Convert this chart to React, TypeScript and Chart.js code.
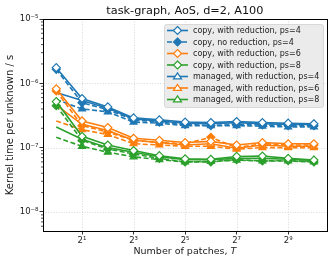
import React, { useEffect, useRef } from 'react';
import { Chart, registerables } from 'chart.js';
Chart.register(...registerables);

// ---------- data ----------
const patches = [1, 2, 4, 8, 16, 32, 64, 128, 256, 512, 1024];
const xTickValues = [2, 8, 32, 128, 512];
const xTickLabels = ['2¹', '2³', '2⁵', '2⁷', '2⁹'];
const yTickValues = [1e-8, 1e-7, 1e-6, 1e-5];
const yTickLabels = ['10⁻⁸', '10⁻⁷', '10⁻⁶', '10⁻⁵'];

const copyWithPs4 = [1.75e-6, 5.8e-7, 4.3e-7, 2.9e-7, 2.7e-7, 2.5e-7, 2.45e-7, 2.55e-7, 2.45e-7, 2.4e-7, 2.35e-7];
const copyNoPs4 = [1.65e-6, 5.0e-7, 3.9e-7, 2.7e-7, 2.5e-7, 2.3e-7, 2.2e-7, 2.3e-7, 2.25e-7, 2.2e-7, 2.2e-7];
const copyWithPs6 = [8.2e-7, 2.6e-7, 2.05e-7, 1.4e-7, 1.3e-7, 1.2e-7, 1.25e-7, 1.1e-7, 1.2e-7, 1.15e-7, 1.15e-7];
const copyNoPs6 = [7.6e-7, 2.2e-7, 1.75e-7, 1.3e-7, 1.2e-7, 1.15e-7, 1.45e-7, 1.0e-7, 1.15e-7, 1.1e-7, 1.1e-7];
const copyWithPs8 = [5.2e-7, 1.5e-7, 1.1e-7, 9.0e-8, 7.5e-8, 6.7e-8, 6.6e-8, 7.3e-8, 7.4e-8, 6.8e-8, 6.4e-8];
const copyNoPs8 = [4.5e-7, 1.3e-7, 9.5e-8, 8.0e-8, 6.8e-8, 6.0e-8, 6.0e-8, 6.5e-8, 6.2e-8, 6.3e-8, 6.0e-8];
const managedWithPs4 = [7.2e-7, 5.4e-7, 4.1e-7, 2.8e-7, 2.6e-7, 2.4e-7, 2.35e-7, 2.45e-7, 2.35e-7, 2.3e-7, 2.3e-7];
const managedNoPs4 = [5.6e-7, 4.0e-7, 3.6e-7, 2.5e-7, 2.4e-7, 2.2e-7, 2.2e-7, 2.2e-7, 2.15e-7, 2.1e-7, 2.1e-7];
const managedWithPs6 = [4.6e-7, 2.3e-7, 1.85e-7, 1.3e-7, 1.2e-7, 1.1e-7, 1.15e-7, 9.8e-8, 1.1e-7, 1.05e-7, 1.05e-7];
const managedNoPs6 = [2.6e-7, 1.9e-7, 1.6e-7, 1.15e-7, 1.1e-7, 1.05e-7, 1.05e-7, 9.5e-8, 1.0e-7, 1.0e-7, 1.0e-7];
const managedWithPs8 = [2.1e-7, 1.35e-7, 1.0e-7, 8.5e-8, 7.2e-8, 6.5e-8, 6.5e-8, 6.8e-8, 6.8e-8, 6.6e-8, 6.3e-8];
const managedNoPs8 = [1.45e-7, 1.05e-7, 8.5e-8, 7.2e-8, 6.5e-8, 6.0e-8, 6.1e-8, 6.4e-8, 6.2e-8, 6.2e-8, 6.0e-8];

const BLUE = '#1f77b4';
const ORANGE = '#ff7f0e';
const GREEN = '#2ca02c';

type S = { label: string; values: number[]; color: string; marker: string; filled: boolean; dashed: boolean; legend: boolean; managed: boolean };
const series: S[] = [
  { label: 'copy, with reduction, ps=4', values: copyWithPs4, color: BLUE, marker: 'rectRot', filled: false, dashed: false, legend: true, managed: false },
  { label: 'copy, no reduction, ps=4', values: copyNoPs4, color: BLUE, marker: 'rectRot', filled: true, dashed: true, legend: true, managed: false },
  { label: 'copy, with reduction, ps=6', values: copyWithPs6, color: ORANGE, marker: 'rectRot', filled: false, dashed: false, legend: true, managed: false },
  { label: 'copy, no reduction, ps=6', values: copyNoPs6, color: ORANGE, marker: 'rectRot', filled: true, dashed: true, legend: false, managed: false },
  { label: 'copy, with reduction, ps=8', values: copyWithPs8, color: GREEN, marker: 'rectRot', filled: false, dashed: false, legend: true, managed: false },
  { label: 'copy, no reduction, ps=8', values: copyNoPs8, color: GREEN, marker: 'rectRot', filled: true, dashed: true, legend: false, managed: false },
  { label: 'managed, with reduction, ps=4', values: managedWithPs4, color: BLUE, marker: 'triangle', filled: false, dashed: false, legend: true, managed: true },
  { label: 'managed, no reduction, ps=4', values: managedNoPs4, color: BLUE, marker: 'triangle', filled: true, dashed: true, legend: false, managed: true },
  { label: 'managed, with reduction, ps=6', values: managedWithPs6, color: ORANGE, marker: 'triangle', filled: false, dashed: false, legend: true, managed: true },
  { label: 'managed, no reduction, ps=6', values: managedNoPs6, color: ORANGE, marker: 'triangle', filled: true, dashed: true, legend: false, managed: true },
  { label: 'managed, with reduction, ps=8', values: managedWithPs8, color: GREEN, marker: 'triangle', filled: false, dashed: false, legend: true, managed: true },
  { label: 'managed, no reduction, ps=8', values: managedNoPs8, color: GREEN, marker: 'triangle', filled: true, dashed: true, legend: false, managed: true },
];

const FONT = "'DejaVu Sans', sans-serif";
const DASH = [5, 2.5];
const R = 4;

const decor = {
  id: 'decor',
  beforeDatasetsDraw(chart: any) {
    const { ctx, chartArea: a, scales } = chart;
    const x = scales.x, y = scales.y;
    ctx.save();
    ctx.strokeStyle = '#cfcfcf';
    ctx.lineWidth = 0.8;
    ctx.setLineDash([1, 1.6]);
    for (const v of xTickValues) {
      const px = Math.round(x.getPixelForValue(v)) + 0.5;
      ctx.beginPath(); ctx.moveTo(px, a.top); ctx.lineTo(px, a.bottom); ctx.stroke();
    }
    for (const v of yTickValues) {
      const py = Math.round(y.getPixelForValue(v)) + 0.5;
      if (py < a.top + 1 || py > a.bottom - 1) continue;
      ctx.beginPath(); ctx.moveTo(a.left, py); ctx.lineTo(a.right, py); ctx.stroke();
    }
    ctx.restore();
  },
  afterDatasetsDraw(chart: any) {
    const { ctx, chartArea: a, scales } = chart;
    const y = scales.y;
    ctx.save();
    // spines
    ctx.strokeStyle = '#000';
    ctx.lineWidth = 1;
    ctx.setLineDash([]);
    ctx.strokeRect(Math.round(a.left) + 0.5, Math.round(a.top) + 0.5, Math.round(a.right - a.left), Math.round(a.bottom - a.top));
    // minor y ticks
    ctx.lineWidth = 0.7;
    for (let e = -9; e <= -5; e++) {
      for (let k = 2; k <= 9; k++) {
        const v = k * Math.pow(10, e);
        const py = y.getPixelForValue(v);
        if (py < a.top || py > a.bottom) continue;
        ctx.beginPath(); ctx.moveTo(a.left, py); ctx.lineTo(a.left - 2, py); ctx.stroke();
      }
    }
    // legend
    const lx = 164, ly = 24, lw = 159, lh = 83;
    ctx.fillStyle = '#ebebeb';
    ctx.strokeStyle = '#d0d0d0';
    ctx.lineWidth = 0.8;
    ctx.beginPath();
    (ctx as any).roundRect(lx + 0.5, ly + 0.5, lw, lh, 2);
    ctx.fill(); ctx.stroke();
    const items = series.filter(s => s.legend);
    ctx.font = `8px ${FONT}`;
    ctx.textBaseline = 'middle';
    ctx.textAlign = 'left';
    items.forEach((s, i) => {
      const cy = 30.5 + i * 11.5;
      ctx.strokeStyle = s.color;
      ctx.lineWidth = 1.6;
      ctx.setLineDash(s.dashed ? DASH : []);
      ctx.beginPath(); ctx.moveTo(167, cy); ctx.lineTo(188, cy); ctx.stroke();
      ctx.setLineDash([]);
      ctx.lineWidth = 1.2;
      ctx.fillStyle = s.filled ? s.color : '#ffffff';
      ctx.beginPath();
      if (s.marker === 'rectRot') {
        ctx.moveTo(177.5, cy - R); ctx.lineTo(177.5 + R, cy); ctx.lineTo(177.5, cy + R); ctx.lineTo(177.5 - R, cy); ctx.closePath();
      } else {
        const h = R * 1.5;
        ctx.moveTo(177.5, cy - h * 0.6); ctx.lineTo(177.5 + R, cy + h * 0.4); ctx.lineTo(177.5 - R, cy + h * 0.4); ctx.closePath();
      }
      ctx.fill(); ctx.stroke();
      ctx.fillStyle = '#222';
      ctx.fillText(s.label, 193, cy + 0.5);
    });
    // title
    ctx.fillStyle = '#111';
    ctx.textAlign = 'center';
    ctx.textBaseline = 'alphabetic';
    ctx.font = `11.3px ${FONT}`;
    ctx.fillText('task-graph, AoS, d=2, A100', (a.left + a.right) / 2, 14);
    // x title
    ctx.font = `9.5px ${FONT}`;
    const t1 = 'Number of patches, ';
    const w1 = ctx.measureText(t1).width;
    ctx.font = `italic 9.5px ${FONT}`;
    const w2 = ctx.measureText('T').width;
    const cx = (a.left + a.right) / 2;
    const sx = cx - (w1 + w2) / 2;
    ctx.textAlign = 'left';
    ctx.font = `9.5px ${FONT}`;
    ctx.fillStyle = '#222';
    ctx.fillText(t1, sx, 254);
    ctx.font = `italic 9.5px ${FONT}`;
    ctx.fillText('T', sx + w1, 254);
    // y title
    ctx.save();
    ctx.translate(13, (a.top + a.bottom) / 2);
    ctx.rotate(-Math.PI / 2);
    ctx.textAlign = 'center';
    ctx.font = `10px ${FONT}`;
    ctx.fillText('Kernel time per unknown / s', 0, 0);
    ctx.restore();
    ctx.restore();
  },
};

export default function App() {
  const ref = useRef<HTMLCanvasElement>(null);
  useEffect(() => {
    if (!ref.current) return;
    const datasets = series.map(s => ({
      label: s.label,
      data: patches.map((p, i) => ({ x: p, y: s.values[i] })),
      borderColor: s.color,
      backgroundColor: s.filled ? s.color : '#ffffff',
      borderWidth: 1.6,
      borderDash: s.dashed ? DASH : [],
      pointStyle: s.marker,
      pointRadius: (c: any) => (s.managed && c.dataIndex === 0 ? 0 : R),
      pointBorderWidth: 1.2,
      pointBorderColor: s.color,
      pointBackgroundColor: s.filled ? s.color : '#ffffff',
      tension: 0,
      fill: false,
    }));
    const chart = new Chart(ref.current, {
      type: 'line',
      data: { datasets },
      plugins: [decor],
      options: {
        responsive: false,
        animation: false,
        devicePixelRatio: 1,
        layout: { padding: { top: 19, right: 5, left: 0, bottom: 0 } },
        plugins: { legend: { display: false }, title: { display: false }, tooltip: { enabled: false } },
        scales: {
          x: {
            type: 'logarithmic',
            min: Math.pow(2, -0.5),
            max: Math.pow(2, 10.5),
            afterBuildTicks: (s: any) => { s.ticks = xTickValues.map(v => ({ value: v })); },
            afterFit: (s: any) => { s.height = 33; },
            ticks: {
              autoSkip: false, maxRotation: 0, padding: 1,
              color: '#222', font: { family: FONT, size: 8.5 },
              callback: (v: any) => { const i = xTickValues.indexOf(Number(v)); return i >= 0 ? xTickLabels[i] : ''; },
            },
            grid: { drawOnChartArea: false, drawTicks: true, tickLength: 3.5, tickColor: '#000', tickWidth: 0.8 },
            border: { display: false },
          },
          y: {
            type: 'logarithmic',
            min: 5.06e-9,
            max: 1e-5,
            afterBuildTicks: (s: any) => { s.ticks = yTickValues.map(v => ({ value: v })); },
            afterFit: (s: any) => { s.width = 43; },
            ticks: {
              autoSkip: false, padding: 1,
              color: '#222', font: { family: FONT, size: 8.5 },
              callback: (v: any) => { const i = yTickValues.findIndex(t => Math.abs(t - Number(v)) / t < 1e-6); return i >= 0 ? yTickLabels[i] : ''; },
            },
            grid: { drawOnChartArea: false, drawTicks: true, tickLength: 3.5, tickColor: '#000', tickWidth: 0.8 },
            border: { display: false },
          },
        },
      } as any,
    });
    return () => chart.destroy();
  }, []);
  return (
    <div style={{ position: 'absolute', left: 0, top: 0, width: 332, height: 264, background: '#fff' }}>
      <canvas ref={ref} width={332} height={264} style={{ display: 'block' }} />
    </div>
  );
}
